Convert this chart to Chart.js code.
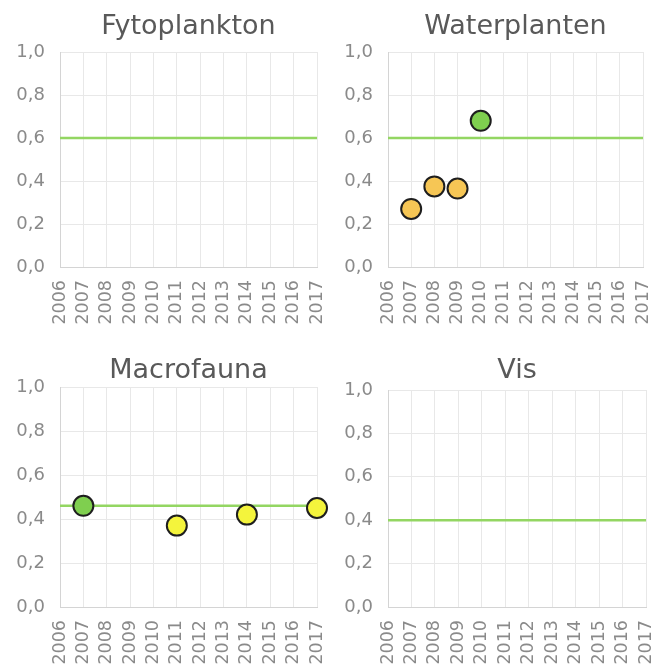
<!DOCTYPE html>
<html lang="nl">
  <head>
    <meta charset="UTF-8" />
    <title>Maatlatten</title>
    <script src="https://cdn.jsdelivr.net/npm/chart.js@4.4.1/dist/chart.umd.min.js"></script>
    <style>
      body { margin: 0; background: #fff; }
      .panel { position: absolute; }
      #fyto { left: 0; top: 0; width: 330px; height: 340px; }
      #water { left: 330px; top: 0; width: 325px; height: 340px; }
      #macro { left: 0; top: 340px; width: 330px; height: 327px; }
      #vis { left: 330px; top: 340px; width: 325px; height: 327px; }
    </style>
  </head>
  <body>
    <div class="panel" id="fyto"><canvas id="fytoCanvas"></canvas></div>
    <div class="panel" id="water"><canvas id="waterCanvas"></canvas></div>
    <div class="panel" id="macro"><canvas id="macroCanvas"></canvas></div>
    <div class="panel" id="vis"><canvas id="visCanvas"></canvas></div>

    <script>
      const years = [2006, 2007, 2008, 2009, 2010, 2011, 2012, 2013, 2014, 2015, 2016, 2017]
      const yTicks = [0, 0.2, 0.4, 0.6, 0.8, 1.0]

      // doelwaarden (groene lijn) per kwaliteitselement
      const fytoTarget = 0.6
      const waterTarget = 0.6
      const macroTarget = 0.46
      const visTarget = 0.4

      // Waterplanten
      const waterYears = [2007, 2008, 2009, 2010]
      const waterValues = [0.27, 0.375, 0.365, 0.68]
      const waterClasses = ['matig', 'matig', 'matig', 'goed']

      // Macrofauna
      const macroYears = [2007, 2011, 2014, 2017]
      const macroValues = [0.46, 0.37, 0.42, 0.45]
      const macroClasses = ['goed', 'ontoereikend', 'ontoereikend', 'ontoereikend']

      const CLASS_COLORS = {
        goed: '#7fcf4f',
        matig: '#f6c655',
        ontoereikend: '#f4f43c',
      }

      const FONT = "'DejaVu Sans', sans-serif"

      function makeChart(id, title, target, pYears, pValues, pClasses, box) {
        const datasets = [
          {
            type: 'line',
            data: [
              { x: years[0], y: target },
              { x: years[years.length - 1], y: target },
            ],
            borderColor: '#93d662',
            borderWidth: 2.5,
            pointRadius: 0,
            order: 2,
          },
        ]
        if (pYears) {
          datasets.push({
            type: 'scatter',
            data: pYears.map((y, i) => ({ x: y, y: pValues[i] })),
            backgroundColor: pClasses.map((c) => CLASS_COLORS[c]),
            borderColor: '#1e1e1e',
            borderWidth: 2,
            pointRadius: 10,
            clip: false,
            order: 1,
          })
        }

        return new Chart(document.getElementById(id), {
          data: { datasets },
          options: {
            responsive: true,
            maintainAspectRatio: false,
            animation: false,
            layout: { padding: { top: 0, right: box.right, bottom: 0, left: 0 } },
            plugins: {
              legend: { display: false },
              tooltip: { enabled: false },
              title: {
                display: true,
                text: title,
                fullSize: false,
                color: '#595959',
                font: { family: FONT, size: 27, weight: 'normal', lineHeight: 1 },
                padding: { top: box.titleTop, bottom: box.titleBottom },
              },
            },
            scales: {
              x: {
                type: 'linear',
                min: years[0],
                max: years[years.length - 1],
                afterBuildTicks: (scale) => {
                  scale.ticks = years.map((v) => ({ value: v }))
                },
                afterFit: (scale) => {
                  scale.height = box.xHeight
                  scale.paddingLeft = 0
                  scale.paddingRight = 0
                },
                grid: { color: '#e8e8e8', drawTicks: false },
                border: { color: '#d4d4d4' },
                ticks: {
                  autoSkip: false,
                  minRotation: 90,
                  maxRotation: 90,
                  padding: 13,
                  color: '#8a8a8a',
                  font: { family: FONT, size: 17.5 },
                  callback: (v) => String(v),
                },
              },
              y: {
                min: 0,
                max: 1,
                afterBuildTicks: (scale) => {
                  scale.ticks = yTicks.map((v) => ({ value: v }))
                },
                afterFit: (scale) => {
                  scale.width = box.yWidth
                },
                grid: { color: '#e8e8e8', drawTicks: false },
                border: { color: '#d4d4d4' },
                ticks: {
                  padding: 15,
                  color: '#8a8a8a',
                  font: { family: FONT, size: 18 },
                  callback: (v) => v.toFixed(1).replace('.', ','),
                },
              },
            },
          },
        })
      }

      makeChart('fytoCanvas', 'Fytoplankton', fytoTarget, null, null, null,
        { yWidth: 60, xHeight: 73, right: 13, titleTop: 13, titleBottom: 12 })
      makeChart('waterCanvas', 'Waterplanten', waterTarget, waterYears, waterValues, waterClasses,
        { yWidth: 58, xHeight: 73, right: 9, titleTop: 13, titleBottom: 12 })
      makeChart('macroCanvas', 'Macrofauna', macroTarget, macroYears, macroValues, macroClasses,
        { yWidth: 60, xHeight: 60, right: 13, titleTop: 17.5, titleBottom: 2.5 })
      makeChart('visCanvas', 'Vis', visTarget, null, null, null,
        { yWidth: 58, xHeight: 60, right: 9, titleTop: 17.5, titleBottom: 5.5 })
    </script>
  </body>
</html>
